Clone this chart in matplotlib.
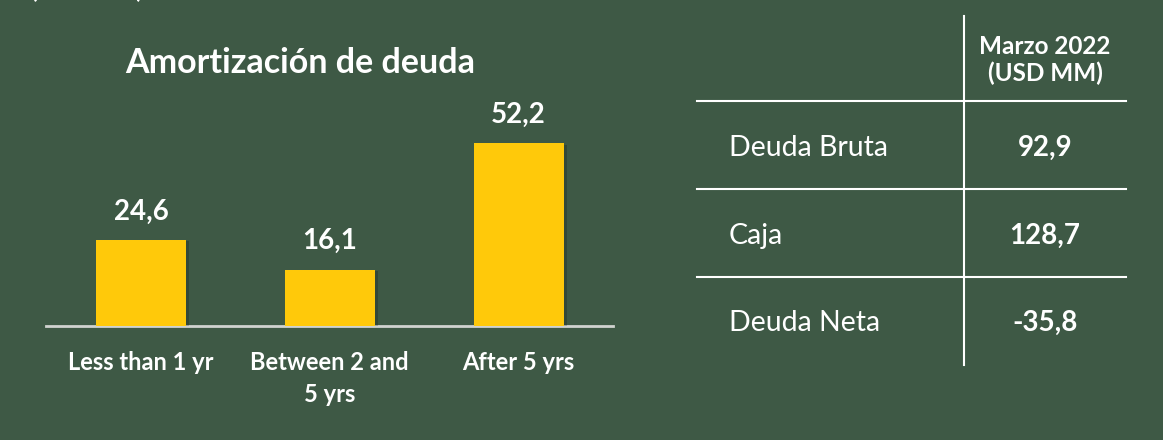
import matplotlib
matplotlib.use("Agg")
import matplotlib.pyplot as plt
import matplotlib.patheffects as pe

# chart data
categories = ["Less than 1 yr", "Between 2 and\n5 yrs", "After 5 yrs"]
amortization = [24.6, 16.1, 52.2]
value_labels = ["24,6", "16,1", "52,2"]

# table data
table_header = "Marzo 2022\n(USD MM)"
row_names = ["Deuda Bruta", "Caja", "Deuda Neta"]
row_values = ["92,9", "128,7", "-35,8"]

BG = "#3e5945"
BAR = "#ffc90a"
W = "white"
FONT = ["Lato", "DejaVu Sans"]

plt.rcParams['font.family'] = FONT

fig = plt.figure(figsize=(11.63, 4.40), dpi=100, facecolor=BG)

# overlay axes in pixel coords for the table and loose text
ov = fig.add_axes([0, 0, 1, 1])
ov.set_xlim(0, 1163)
ov.set_ylim(440, 0)
ov.axis('off')
ov.patch.set_alpha(0)

# bar chart
ax = fig.add_axes([46.5 / 1163, 1 - 326 / 440, (613 - 46.5) / 1163, 226 / 440])
ax.set_facecolor(BG)
x = range(len(categories))
bars = ax.bar(x, amortization, width=0.476, color=BAR, zorder=3)
for b in bars:
    b.set_path_effects([pe.SimplePatchShadow(offset=(2.5, -1), shadow_rgbFace='black', alpha=0.18),
                        pe.Normal()])
for i, v in enumerate(amortization):
    ax.annotate(value_labels[i], (i, v), xytext=(0, 20.5), textcoords='offset points',
                ha='center', va='center', color=W, fontsize=20, fontweight='bold')
ax.set_xlim(-0.5, 2.5)
ax.set_ylim(0, 226 / 3.5)
for s in ['top', 'right', 'left']:
    ax.spines[s].set_visible(False)
ax.spines['bottom'].set_color('#d0d3d0')
ax.spines['bottom'].set_linewidth(2)
ax.set_yticks([])
ax.set_xticks(list(x))
ax.set_xticklabels(categories, color=W, fontsize=17, fontweight='bold', linespacing=1.45)
ax.tick_params(axis='x', length=0, pad=18)

ov.text(300, 63, "Amortización de deuda", ha='center', va='center', color=W,
        fontsize=24.5, fontweight='bold')
# subtitle cut off at the very top (only the bracket tails show)
ov.text(87, -2, "(USD MM)", ha='center', va='baseline', color=W, fontsize=17, fontweight='bold')

# table
ov.plot([964, 964], [16, 365], color=W, lw=1.5)
for yy in [101, 189, 277]:
    ov.plot([697, 1126], [yy, yy], color=W, lw=1.5)
ov.text(1045, 60, table_header, ha='center', va='center', color=W, fontsize=17.5,
        fontweight='bold', linespacing=1.2)
row_y = [148, 236, 323]
for name, val, yy in zip(row_names, row_values, row_y):
    ov.text(729, yy, name, ha='left', va='center', color=W, fontsize=20.5)
    ov.text(1045, yy, val, ha='center', va='center', color=W, fontsize=20, fontweight='bold')

fig.savefig("out.png", dpi=100, facecolor=BG)
